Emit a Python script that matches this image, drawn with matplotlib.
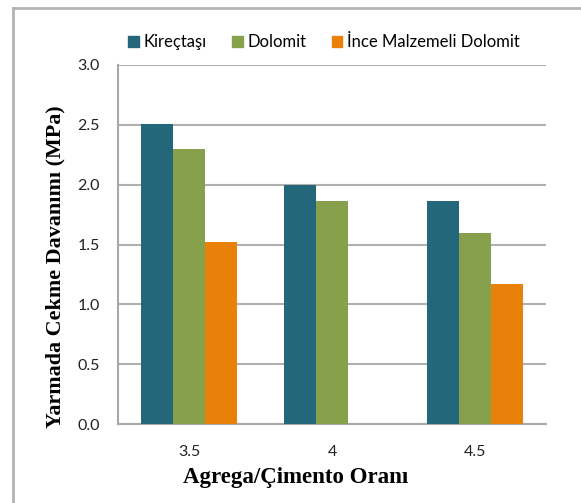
import numpy as np
import matplotlib
matplotlib.use("Agg")
import matplotlib.pyplot as plt
from matplotlib.lines import Line2D

categories = ["3.5", "4", "4.5"]
series_names = ["Kireçtaşı", "Dolomit", "İnce Malzemeli Dolomit"]
kirectasi = [2.51, 2.00, 1.86]
dolomit = [2.30, 1.86, 1.60]
ince_dolomit = [1.52, np.nan, 1.17]
colors = ["#24667A", "#86A04B", "#E8800A"]
y_ticks = [0.0, 0.5, 1.0, 1.5, 2.0, 2.5, 3.0]

fig = plt.figure(figsize=(5.81, 5.03), dpi=100)
ax = fig.add_axes([118 / 581, 1 - 424 / 503, 428 / 581, 359 / 503])

# frame around the whole chart (runs off the right and bottom edge)
fig.add_artist(Line2D([13 / 581, 13 / 581], [0, 1 - 8 / 503], transform=fig.transFigure,
                      color="#B4B4B4", lw=2))
fig.add_artist(Line2D([13 / 581, 1], [1 - 8 / 503, 1 - 8 / 503], transform=fig.transFigure,
                      color="#B4B4B4", lw=2))

x = np.arange(len(categories))
w = 0.224
for i, (vals, c, name) in enumerate(zip([kirectasi, dolomit, ince_dolomit], colors, series_names)):
    ax.bar(x + (i - 1) * w, vals, width=w, color=c, label=name, zorder=3)

ax.set_xlim(-0.5, 2.5)
ax.set_ylim(0, 3.0)
ax.set_yticks(y_ticks)
ax.set_yticklabels([f"{t:.1f}" for t in y_ticks])
ax.set_xticks(x)
ax.set_xticklabels(categories)
ax.yaxis.grid(True, color="#B0B0B0", lw=1.5, zorder=0)
ax.set_axisbelow(True)
for s in ["top", "right"]:
    ax.spines[s].set_visible(False)
for s in ["left", "bottom"]:
    ax.spines[s].set_color("#A8A8A8")
    ax.spines[s].set_linewidth(1.5)
ax.tick_params(axis="both", length=0, labelsize=11.5, colors="#222222",
               labelfontfamily="Lato")
ax.tick_params(axis="y", pad=13)
ax.tick_params(axis="x", pad=15)

fig.text(296 / 581, 1 - 477 / 503, "Agrega/Çimento Oranı", ha="center", va="center",
         fontsize=16.5, fontweight="bold", family="Liberation Serif")
fig.text(55 / 581, 1 - 267 / 503, "Yarmada Cekme Davanımı (MPa)", ha="center", va="center",
         rotation=90, fontsize=15.8, fontweight="bold", family="Liberation Serif")

handles = [plt.Rectangle((0, 0), 1, 1, color=c) for c in colors]
fig.legend(handles, series_names, loc="center", bbox_to_anchor=(324 / 581, 1 - 42 / 503),
           ncol=3, frameon=False, handlelength=0.65, handleheight=0.65, handletextpad=0.3,
           columnspacing=1.5, prop={"family": "Lato", "size": 12})

fig.savefig("out.png", dpi=100)
